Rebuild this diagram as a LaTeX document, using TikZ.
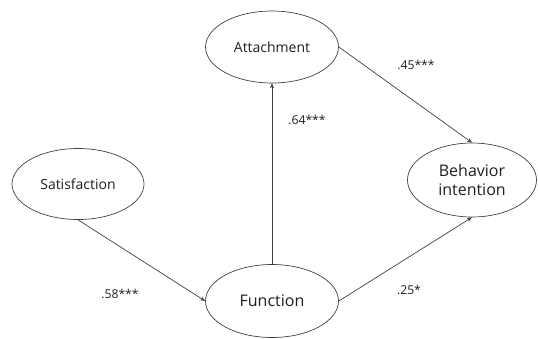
\documentclass[tikz,border=0pt]{standalone}
\usepackage{fontspec}
\setmainfont{Open Sans}
\usetikzlibrary{arrows.meta,shapes.geometric}
\begin{document}
\begin{tikzpicture}[x=1pt,y=-1pt,
  construct/.style={draw=black!75, line width=0.7pt, ellipse, minimum width=#1, minimum height=72pt, inner sep=0pt, align=center, font=\fontsize{14}{17}\selectfont, text=black!88},
  bigtext/.style={font=\fontsize{16}{19}\selectfont},
  path/.style={draw=black!75, line width=0.7pt, -{Stealth[length=5pt,width=4pt]}},
  coef/.style={font=\fontsize{12.2}{15}\selectfont, text=black!88}]
\useasboundingbox (0,0) rectangle (538,338);
\node[construct=133pt] (att) at (272,47) {Attachment};
\node[construct=132pt, minimum height=71pt] (sat) at (78,184) {Satisfaction};
\node[construct=129pt, minimum height=74pt, bigtext] (beh) at (472,180) {Behavior\\intention};
\node[construct=133pt, minimum height=73pt, bigtext] (fun) at (272,301) {Function};

% paths between the constructs
\draw[path] (fun.north) -- (att.south);
\draw[path] (att.east) -- (beh.north);
\draw[path] (sat.south) -- (fun.west);
\draw[path] (fun.east) -- (beh.south);

% path coefficients
\node[coef] (l45) at (416,65) {.45***};
\node[coef] (l64) at (307,120) {.64***};
\node[coef] (l58) at (120,294) {.58***};
\node[coef] (l25) at (409,290) {.25*};
\end{tikzpicture}
\end{document}
